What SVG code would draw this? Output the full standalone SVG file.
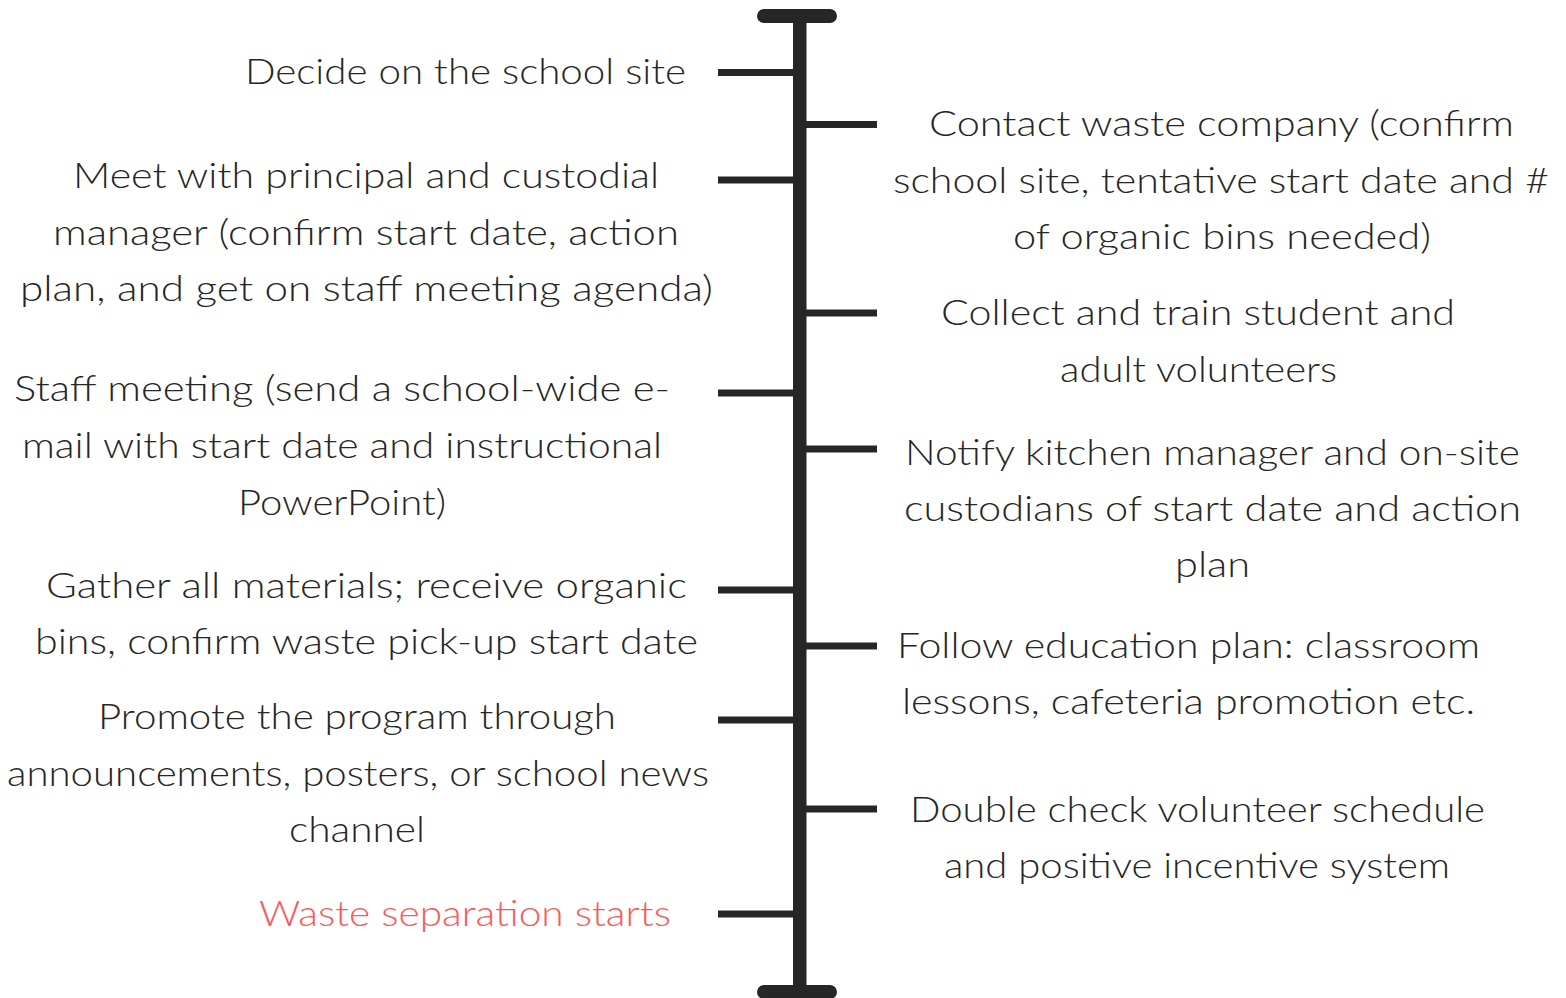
<svg xmlns="http://www.w3.org/2000/svg" width="1566" height="998" viewBox="0 0 1566 998">
  <style>
    .spine { fill: #262626; }
    .tick { stroke: #262626; stroke-width: 7; }
    .label { font-family: "Lato", "Liberation Sans", sans-serif; font-weight: 300; font-size: 36px; fill: #262626; text-anchor: middle; }
    .label.final { fill: #ff5757; }
  </style>
  <rect width="1566" height="998" fill="#ffffff"/>

  <!-- timeline spine with end caps -->
  <g id="spine">
    <rect class="spine" x="793" y="14" width="13.5" height="978"/>
    <rect class="spine" x="757" y="9" width="80" height="14" rx="7"/>
    <rect class="spine" x="757" y="985" width="80" height="14" rx="7"/>
  </g>

  <!-- connectors from the spine to each step -->
  <g id="connectors">
    <line class="tick" x1="718" y1="72.5" x2="794" y2="72.5"/>
    <line class="tick" x1="718" y1="180" x2="794" y2="180"/>
    <line class="tick" x1="718" y1="393" x2="794" y2="393"/>
    <line class="tick" x1="718" y1="590" x2="794" y2="590"/>
    <line class="tick" x1="718" y1="720" x2="794" y2="720"/>
    <line class="tick" x1="718" y1="914" x2="794" y2="914"/>
    <line class="tick" x1="805" y1="124.5" x2="877" y2="124.5"/>
    <line class="tick" x1="805" y1="313" x2="877" y2="313"/>
    <line class="tick" x1="805" y1="449" x2="877" y2="449"/>
    <line class="tick" x1="805" y1="646" x2="877" y2="646"/>
    <line class="tick" x1="805" y1="809" x2="877" y2="809"/>
  </g>

  <!-- left-hand steps -->
  <g id="step-decide-site">
    <text class="label" x="465.5" y="84" textLength="441" lengthAdjust="spacingAndGlyphs">Decide on the school site</text>
  </g>
  <g id="step-meet-principal">
    <text class="label" x="366" y="188" textLength="586" lengthAdjust="spacingAndGlyphs">Meet with principal and custodial</text>
    <text class="label" x="366" y="244.5" textLength="626" lengthAdjust="spacingAndGlyphs">manager (confirm start date, action</text>
    <text class="label" x="366.5" y="300.5" textLength="693" lengthAdjust="spacingAndGlyphs">plan, and get on staff meeting agenda)</text>
  </g>
  <g id="step-staff-meeting">
    <text class="label" x="342" y="401" textLength="656" lengthAdjust="spacingAndGlyphs">Staff meeting (send a school-wide e-</text>
    <text class="label" x="342" y="457.5" textLength="640" lengthAdjust="spacingAndGlyphs">mail with start date and instructional</text>
    <text class="label" x="342" y="514.5" textLength="208" lengthAdjust="spacingAndGlyphs">PowerPoint)</text>
  </g>
  <g id="step-gather-materials">
    <text class="label" x="366.5" y="598" textLength="641" lengthAdjust="spacingAndGlyphs">Gather all materials; receive organic</text>
    <text class="label" x="366.5" y="654" textLength="663" lengthAdjust="spacingAndGlyphs">bins, confirm waste pick-up start date</text>
  </g>
  <g id="step-promote">
    <text class="label" x="357" y="729" textLength="518" lengthAdjust="spacingAndGlyphs">Promote the program through</text>
    <text class="label" x="358" y="785.5" textLength="702" lengthAdjust="spacingAndGlyphs">announcements, posters, or school news</text>
    <text class="label" x="357" y="842" textLength="136" lengthAdjust="spacingAndGlyphs">channel</text>
  </g>
  <g id="step-separation-starts">
    <text class="label final" x="465" y="926" textLength="412" lengthAdjust="spacingAndGlyphs">Waste separation starts</text>
  </g>

  <!-- right-hand steps -->
  <g id="step-contact-waste-company">
    <text class="label" x="1221.5" y="136" textLength="585" lengthAdjust="spacingAndGlyphs">Contact waste company (confirm</text>
    <text class="label" x="1221" y="192.5" textLength="656" lengthAdjust="spacingAndGlyphs">school site, tentative start date and #</text>
    <text class="label" x="1222" y="248.5" textLength="418" lengthAdjust="spacingAndGlyphs">of organic bins needed)</text>
  </g>
  <g id="step-volunteers">
    <text class="label" x="1198" y="325" textLength="514" lengthAdjust="spacingAndGlyphs">Collect and train student and</text>
    <text class="label" x="1198.5" y="381.5" textLength="277" lengthAdjust="spacingAndGlyphs">adult volunteers</text>
  </g>
  <g id="step-notify-kitchen">
    <text class="label" x="1212.5" y="464.5" textLength="615" lengthAdjust="spacingAndGlyphs">Notify kitchen manager and on-site</text>
    <text class="label" x="1212.5" y="521" textLength="617" lengthAdjust="spacingAndGlyphs">custodians of start date and action</text>
    <text class="label" x="1212.5" y="577" textLength="75" lengthAdjust="spacingAndGlyphs">plan</text>
  </g>
  <g id="step-education-plan">
    <text class="label" x="1188.5" y="657.5" textLength="583" lengthAdjust="spacingAndGlyphs">Follow education plan: classroom</text>
    <text class="label" x="1188.5" y="714" textLength="573" lengthAdjust="spacingAndGlyphs">lessons, cafeteria promotion etc.</text>
  </g>
  <g id="step-double-check">
    <text class="label" x="1197.5" y="821.5" textLength="575" lengthAdjust="spacingAndGlyphs">Double check volunteer schedule</text>
    <text class="label" x="1197" y="878" textLength="506" lengthAdjust="spacingAndGlyphs">and positive incentive system</text>
  </g>
</svg>
